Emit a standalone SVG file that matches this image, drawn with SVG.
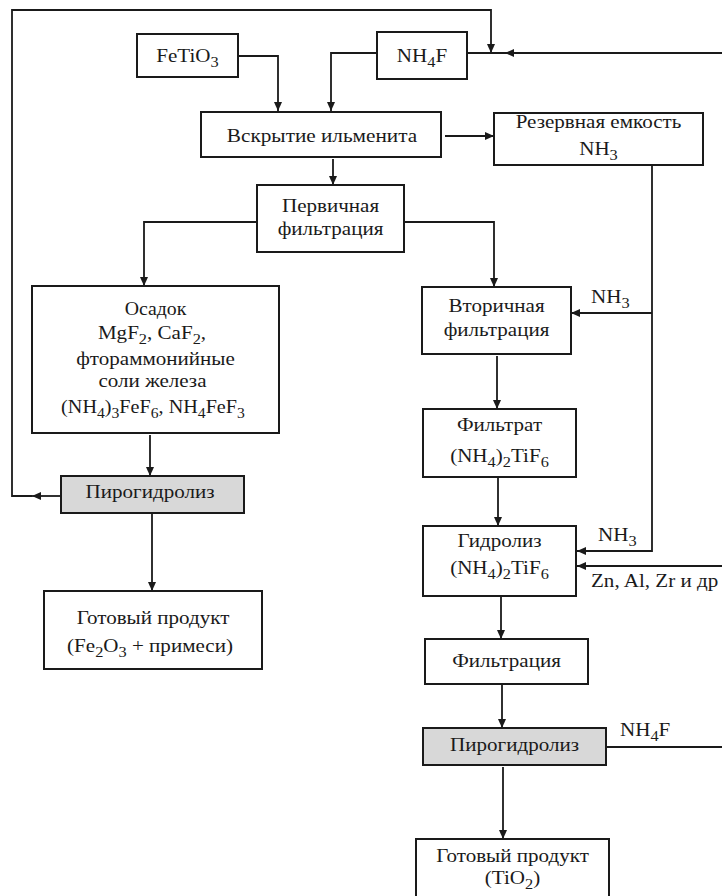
<svg xmlns="http://www.w3.org/2000/svg" width="722" height="896" viewBox="0 0 722 896" font-family="Liberation Serif, Times New Roman, serif">
<defs>
<style>
.box{fill:#fff;stroke:#1a1a1a;stroke-width:2}
.gray{fill:#d8d8d8;stroke:#1a1a1a;stroke-width:2}
.ln{fill:none;stroke:#1a1a1a;stroke-width:1.8}
.t{font-size:18px;fill:#1a1a1a;text-anchor:middle}
.l{font-size:18px;fill:#1a1a1a;text-anchor:start}
.s{font-size:14px}
</style>
<marker id="ar" markerUnits="userSpaceOnUse" markerWidth="10" markerHeight="10" refX="9" refY="4" orient="auto">
<path d="M0,0 L9,4 L0,8 z" fill="#1a1a1a"/>
</marker>
</defs>
<rect width="722" height="896" fill="#fff"/>

<g id="connectors">
<path class="ln" d="M61,496 H32" marker-end="url(#ar)"/>
<path class="ln" d="M32,496 H12 V10 H491 V53" marker-end="url(#ar)"/>
<path class="ln" d="M722,53 H505" marker-end="url(#ar)"/>
<path class="ln" d="M505,53 H467"/>
<path class="ln" d="M238,56 H278 V111" marker-end="url(#ar)"/>
<path class="ln" d="M377,53 H331 V111" marker-end="url(#ar)"/>
<path class="ln" d="M445,136 H494" marker-end="url(#ar)"/>
<path class="ln" d="M333,159 V185" marker-end="url(#ar)"/>
<path class="ln" d="M652,165 V551 H577" marker-end="url(#ar)"/>
<path class="ln" d="M652,313 H571" marker-end="url(#ar)"/>
<path class="ln" d="M257,222 H144 V286" marker-end="url(#ar)"/>
<path class="ln" d="M404,222 H494 V287" marker-end="url(#ar)"/>
<path class="ln" d="M150,435 V476" marker-end="url(#ar)"/>
<path class="ln" d="M152,514 V591" marker-end="url(#ar)"/>
<path class="ln" d="M497,356 V409" marker-end="url(#ar)"/>
<path class="ln" d="M498,478 V526" marker-end="url(#ar)"/>
<path class="ln" d="M722,566 H577" marker-end="url(#ar)"/>
<path class="ln" d="M501,597 V639" marker-end="url(#ar)"/>
<path class="ln" d="M502,685 V728" marker-end="url(#ar)"/>
<path class="ln" d="M606,747 H722"/>
<path class="ln" d="M503,767 V839" marker-end="url(#ar)"/>
<text class="l" transform="translate(591,303) scale(1.17,1)">NH<tspan class="s" dy="5">3</tspan></text>
<text class="l" transform="translate(598,541) scale(1.17,1)">NH<tspan class="s" dy="5">3</tspan></text>
<text class="l" transform="translate(591,587) scale(1.17,1)">Zn, Al, Zr и др</text>
<text class="l" transform="translate(620,736) scale(1.17,1)">NH<tspan class="s" dy="5">4</tspan><tspan dy="-5">F</tspan></text>
</g>

<g id="fetio3">
<rect class="box" x="137" y="34" width="101" height="43"/>
<text class="t" transform="translate(187.5,62) scale(1.17,1)">FeTiO<tspan class="s" dy="5">3</tspan></text>
</g>
<g id="nh4f">
<rect class="box" x="377" y="32" width="90" height="47"/>
<text class="t" transform="translate(422,62) scale(1.17,1)">NH<tspan class="s" dy="5">4</tspan><tspan dy="-5">F</tspan></text>
</g>
<g id="vskrytie">
<rect class="box" x="201" y="112" width="240" height="45"/>
<text class="t" transform="translate(322,142) scale(1.18,1)">Вскрытие ильменита</text>
</g>
<g id="rezerv">
<rect class="box" x="494" y="113" width="209" height="52"/>
<text class="t" transform="translate(598.5,128) scale(1.17,1)">Резервная емкость</text>
<text class="t" transform="translate(598.5,155) scale(1.17,1)">NH<tspan class="s" dy="5">3</tspan></text>
</g>
<g id="perv">
<rect class="box" x="257" y="185" width="147" height="67"/>
<text class="t" transform="translate(330.5,212) scale(1.17,1)">Первичная</text>
<text class="t" transform="translate(330.5,235) scale(1.17,1)">фильтрация</text>
</g>
<g id="osadok">
<rect class="box" x="32" y="286" width="247" height="147"/>
<text class="t" transform="translate(155.5,315) scale(1.1,1)">Осадок</text>
<text class="t" transform="translate(152,339) scale(1.17,1)">MgF<tspan class="s" dy="5">2</tspan><tspan dy="-5">, CaF</tspan><tspan class="s" dy="5">2</tspan><tspan dy="-5">,</tspan></text>
<text class="t" transform="translate(155.5,365) scale(1.17,1)">фтораммонийные</text>
<text class="t" transform="translate(152.5,387) scale(1.17,1)">соли железа</text>
<text class="t" transform="translate(153,413) scale(1.12,1)">(NH<tspan class="s" dy="5">4</tspan><tspan dy="-5">)</tspan><tspan class="s" dy="5">3</tspan><tspan dy="-5">FeF</tspan><tspan class="s" dy="5">6</tspan><tspan dy="-5">, NH</tspan><tspan class="s" dy="5">4</tspan><tspan dy="-5">FeF</tspan><tspan class="s" dy="5">3</tspan></text>
</g>
<g id="piro1">
<rect class="gray" x="61" y="476" width="183" height="37"/>
<text class="t" transform="translate(150,498) scale(1.17,1)">Пирогидролиз</text>
</g>
<g id="gotov1">
<rect class="box" x="44" y="591" width="218" height="78"/>
<text class="t" transform="translate(153,624) scale(1.17,1)">Готовый продукт</text>
<text class="t" transform="translate(150,652) scale(1.17,1)">(Fe<tspan class="s" dy="5">2</tspan><tspan dy="-5">O</tspan><tspan class="s" dy="5">3</tspan><tspan dy="-5"> + примеси)</tspan></text>
</g>
<g id="vtor">
<rect class="box" x="422" y="287" width="149" height="67"/>
<text class="t" transform="translate(496.5,312) scale(1.17,1)">Вторичная</text>
<text class="t" transform="translate(496.5,336) scale(1.17,1)">фильтрация</text>
</g>
<g id="filtrat">
<rect class="box" x="423" y="409" width="153" height="68"/>
<text class="t" transform="translate(499.5,431) scale(1.17,1)">Фильтрат</text>
<text class="t" transform="translate(499.5,462) scale(1.17,1)">(NH<tspan class="s" dy="5">4</tspan><tspan dy="-5">)</tspan><tspan class="s" dy="5">2</tspan><tspan dy="-5">TiF</tspan><tspan class="s" dy="5">6</tspan></text>
</g>
<g id="gidroliz">
<rect class="box" x="423" y="526" width="153" height="70"/>
<text class="t" transform="translate(499.5,547) scale(1.17,1)">Гидролиз</text>
<text class="t" transform="translate(499.5,574) scale(1.17,1)">(NH<tspan class="s" dy="5">4</tspan><tspan dy="-5">)</tspan><tspan class="s" dy="5">2</tspan><tspan dy="-5">TiF</tspan><tspan class="s" dy="5">6</tspan></text>
</g>
<g id="filtr">
<rect class="box" x="425" y="639" width="163" height="45"/>
<text class="t" transform="translate(506.5,667) scale(1.17,1)">Фильтрация</text>
</g>
<g id="piro2">
<rect class="gray" x="423" y="728" width="183" height="37"/>
<text class="t" transform="translate(514.5,751) scale(1.17,1)">Пирогидролиз</text>
</g>
<g id="gotov2">
<path class="box" d="M416,900 V839 H609 V900"/>
<text class="t" transform="translate(512.5,862) scale(1.17,1)">Готовый продукт</text>
<text class="t" transform="translate(512.5,884) scale(1.17,1)">(TiO<tspan class="s" dy="5">2</tspan><tspan dy="-5">)</tspan></text>
</g>
</svg>
